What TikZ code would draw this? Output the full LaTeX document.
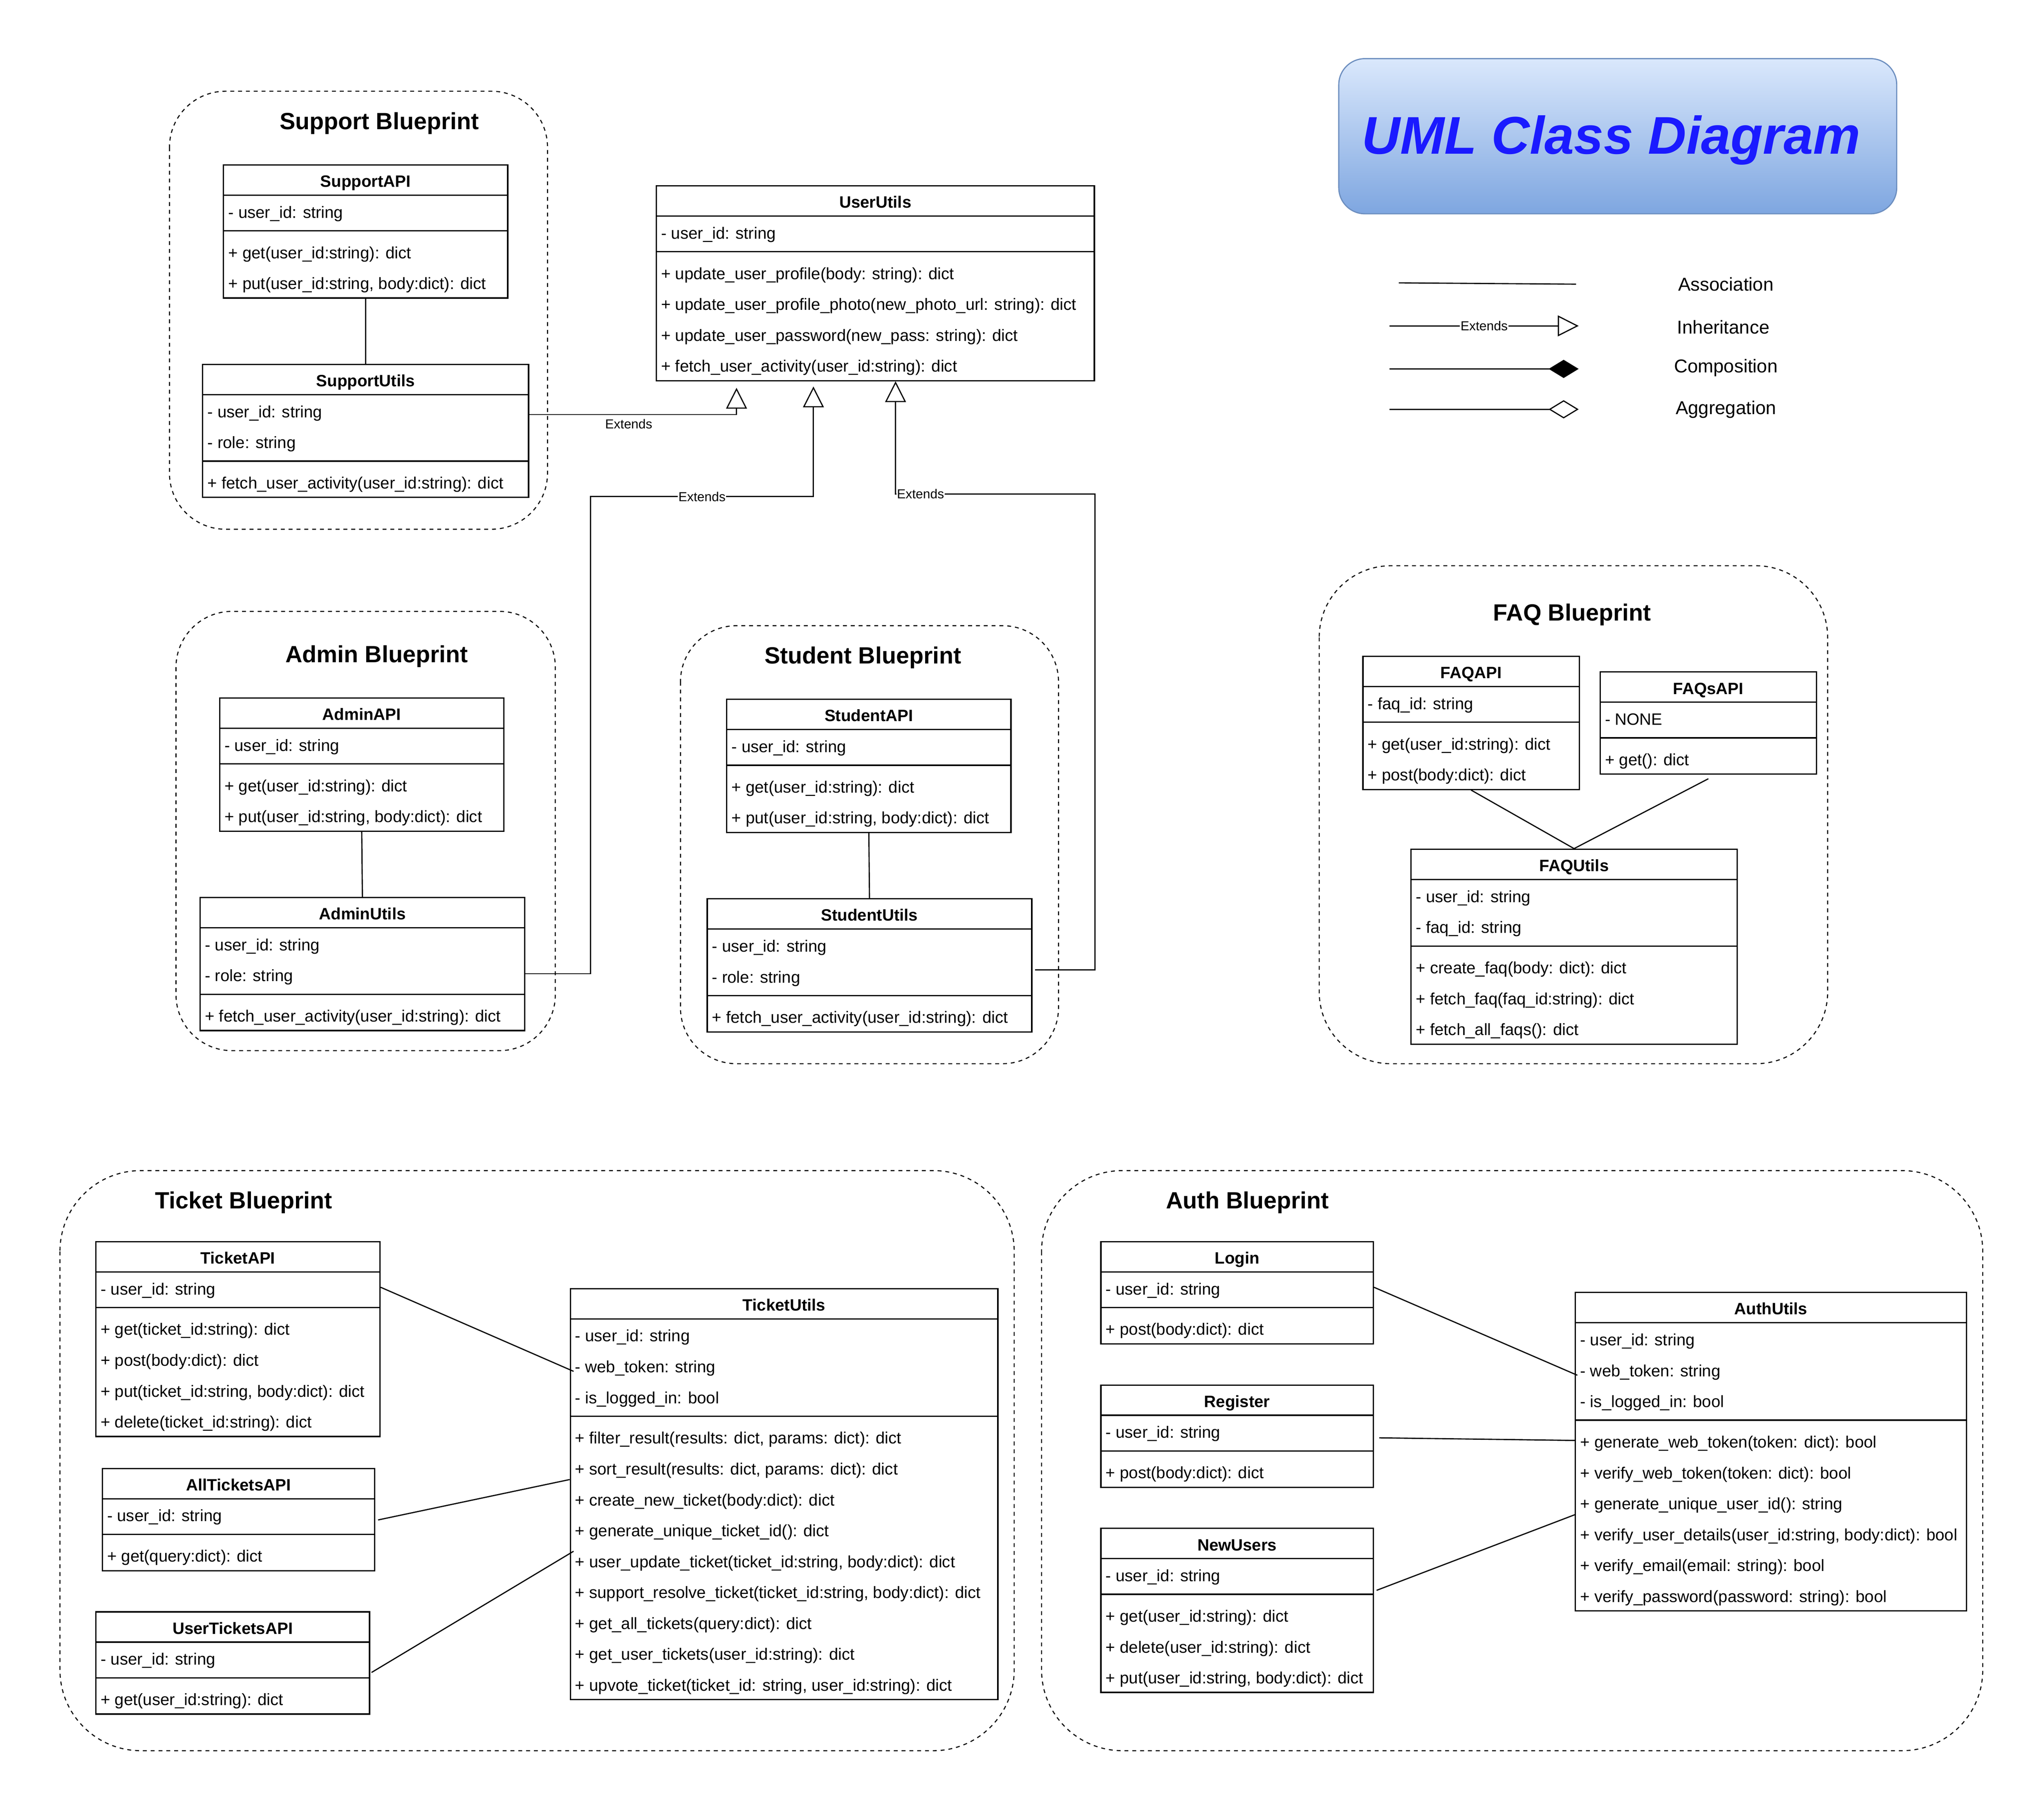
\documentclass[tikz,border=0pt]{standalone}
\usepackage{fontspec}
\setmainfont{Liberation Sans}
\usetikzlibrary{calc,arrows.meta,shapes.geometric}
\definecolor{titleblue}{RGB}{26,26,255}
\definecolor{boxtop}{HTML}{DAE8FC}
\definecolor{boxbot}{HTML}{7EA6E0}
\definecolor{boxline}{HTML}{6C8EBF}
\tikzset{
  classbox/.style={draw, line width=1pt, fill=white, inner sep=0pt},
  classtitle/.style={font=\fontsize{12.6}{14}\selectfont\bfseries, inner sep=0pt, text height=9pt, text depth=2.7pt, yshift=-2.5pt},
  member/.style={font=\fontsize{12.6}{14}\selectfont, anchor=west, inner xsep=4pt, inner ysep=0pt, text height=9pt, text depth=2.7pt, yshift=-2.5pt},
  blueprint/.style={draw, dashed, line width=0.8pt},
  bptitle/.style={font=\fontsize{18}{20}\selectfont\bfseries, inner sep=0pt, yshift=-1.5pt},
  assoc/.style={line width=0.9pt},
  extends/.style={line width=0.9pt, -{Triangle[open, width=16pt, length=16pt, fill=white]}},
  extlabel/.style={font=\fontsize{10}{12}\selectfont, fill=white, inner sep=0.5pt},
  legendtext/.style={font=\fontsize{14.3}{16}\selectfont, inner sep=0pt},
}
\newcommand{\umlclass}[9]{%
  \pgfmathsetmacro{\uH}{23.7*(1+#5+#6)+7.3}%
  \pgfmathsetmacro{\uS}{23.7*(1+#5)+3.65}%
  \pgfmathsetmacro{\uM}{23.7*(1+#5)+7.3}%
  \node[classbox, minimum width=#4pt, minimum height=\uH pt, anchor=north west] (#1) at (#2,#3) {};
  \node[classtitle] (#1-t) at ($(#1.north)+(0,11.85)$) {#7};
  \draw[line width=1pt] ($(#1.north west)+(0,23.7)$) -- ($(#1.north east)+(0,23.7)$);
  \draw[line width=1pt] ($(#1.north west)+(0,\uS)$) -- ($(#1.north east)+(0,\uS)$);
  \foreach \mtext [count=\i] in {#8} {\node[member] (#1-a\i) at ($(#1.north west)+(0,{23.7*\i+11.85})$) {\mtext};}
  \foreach \mtext [count=\i] in {#9} {\node[member] (#1-m\i) at ($(#1.north west)+(0,{\uM+23.7*\i-11.85})$) {\mtext};}
}
\begin{document}
\begin{tikzpicture}[x=1pt,y=-1pt]
\useasboundingbox (0,0) rectangle (1568,1390.6);

% ---------- title ----------
\node[draw=boxline, line width=0.9pt, rounded corners=20pt, top color=boxtop, bottom color=boxbot,
      minimum width=428pt, minimum height=119pt, inner sep=0pt] (titlebox) at (1241,104.5) {};
\node[font=\fontsize{40.7}{48}\selectfont\bfseries\itshape, text=titleblue, inner sep=0pt] (titletext) at ($(titlebox.center)+(-5,3)$) {UML Class Diagram};

% ---------- legend ----------
\coordinate (la1) at (1073,217); \coordinate (la2) at (1209,218);
\draw[assoc] (la1) -- (la2);
\node[legendtext] (lat) at (1324,218) {Association};
\coordinate (li1) at (1066,250); \coordinate (li2) at (1211,250);
\draw[extends] (li1) -- node[extlabel]{Extends} (li2);
\node[legendtext] (lit) at (1322,251) {Inheritance};
\coordinate (lc1) at (1066,283); \coordinate (lc2) at (1211,283);
\draw[line width=0.9pt, -{Diamond[length=23pt, width=14pt]}] (lc1) -- (lc2);
\node[legendtext] (lct) at (1324,282) {Composition};
\coordinate (lg1) at (1066,314); \coordinate (lg2) at (1211,314);
\draw[line width=0.9pt, -{Diamond[open, length=23pt, width=14pt, fill=white]}] (lg1) -- (lg2);
\node[legendtext] (lgt) at (1324,314) {Aggregation};

% ---------- blueprint containers ----------
\draw[blueprint, rounded corners=43pt] (130,70) rectangle (420,406);
\node[bptitle] (bpsupport) at (291,93) {Support Blueprint};
\draw[blueprint, rounded corners=43pt] (135,469) rectangle (426,806);
\node[bptitle] (bpadmin) at (289,502) {Admin Blueprint};
\draw[blueprint, rounded corners=43pt] (522,480) rectangle (812,816);
\node[bptitle] (bpstudent) at (662,503) {Student Blueprint};
\draw[blueprint, rounded corners=55pt] (1012,434) rectangle (1402,816);
\node[bptitle] (bpfaq) at (1206,470) {FAQ Blueprint};
\draw[blueprint, rounded corners=62pt] (46,898) rectangle (778,1343);
\node[bptitle] (bpticket) at (187,921) {Ticket Blueprint};
\draw[blueprint, rounded corners=62pt] (799,898) rectangle (1521,1343);
\node[bptitle] (bpauth) at (957,921) {Auth Blueprint};

% ---------- classes ----------
\umlclass{sapi}{171}{126}{218}{1}{2}{SupportAPI}{- user\_id: string}{+ get(user\_id:string): dict, {+ put(user\_id:string, body:dict): dict}}
\umlclass{sutil}{155}{279}{250}{2}{1}{SupportUtils}{- user\_id: string, - role: string}{+ fetch\_user\_activity(user\_id:string): dict}
\umlclass{uu}{503}{142}{336}{1}{4}{UserUtils}{- user\_id: string}{+ update\_user\_profile(body: string): dict, + update\_user\_profile\_photo(new\_photo\_url: string): dict, + update\_user\_password(new\_pass: string): dict, + fetch\_user\_activity(user\_id:string): dict}
\umlclass{aapi}{168}{535}{218}{1}{2}{AdminAPI}{- user\_id: string}{+ get(user\_id:string): dict, {+ put(user\_id:string, body:dict): dict}}
\umlclass{autil}{153}{688}{249}{2}{1}{AdminUtils}{- user\_id: string, - role: string}{+ fetch\_user\_activity(user\_id:string): dict}
\umlclass{stapi}{557}{536}{218}{1}{2}{StudentAPI}{- user\_id: string}{+ get(user\_id:string): dict, {+ put(user\_id:string, body:dict): dict}}
\umlclass{stutil}{542}{689}{249}{2}{1}{StudentUtils}{- user\_id: string, - role: string}{+ fetch\_user\_activity(user\_id:string): dict}
\umlclass{faqapi}{1045}{503}{166}{1}{2}{FAQAPI}{- faq\_id: string}{+ get(user\_id:string): dict, + post(body:dict): dict}
\umlclass{faqsapi}{1227}{515}{166}{1}{1}{FAQsAPI}{- NONE}{+ get(): dict}
\umlclass{faqutil}{1082}{651}{250}{2}{3}{FAQUtils}{- user\_id: string, - faq\_id: string}{+ create\_faq(body: dict): dict, + fetch\_faq(faq\_id:string): dict, + fetch\_all\_faqs(): dict}
\umlclass{tapi}{73}{952}{218}{1}{4}{TicketAPI}{- user\_id: string}{+ get(ticket\_id:string): dict, + post(body:dict): dict, {+ put(ticket\_id:string, body:dict): dict}, + delete(ticket\_id:string): dict}
\umlclass{atapi}{78}{1126}{209}{1}{1}{AllTicketsAPI}{- user\_id: string}{+ get(query:dict): dict}
\umlclass{utapi}{73}{1236}{210}{1}{1}{UserTicketsAPI}{- user\_id: string}{+ get(user\_id:string): dict}
\umlclass{tutil}{437}{988}{328}{3}{9}{TicketUtils}{- user\_id: string, - web\_token: string, - is\_logged\_in: bool}{{+ filter\_result(results: dict, params: dict): dict}, {+ sort\_result(results: dict, params: dict): dict}, + create\_new\_ticket(body:dict): dict, + generate\_unique\_ticket\_id(): dict, {+ user\_update\_ticket(ticket\_id:string, body:dict): dict}, {+ support\_resolve\_ticket(ticket\_id:string, body:dict): dict}, + get\_all\_tickets(query:dict): dict, + get\_user\_tickets(user\_id:string): dict, {+ upvote\_ticket(ticket\_id: string, user\_id:string): dict}}
\umlclass{login}{844}{952}{209}{1}{1}{Login}{- user\_id: string}{+ post(body:dict): dict}
\umlclass{register}{844}{1062}{209}{1}{1}{Register}{- user\_id: string}{+ post(body:dict): dict}
\umlclass{newusers}{844}{1172}{209}{1}{3}{NewUsers}{- user\_id: string}{+ get(user\_id:string): dict, + delete(user\_id:string): dict, {+ put(user\_id:string, body:dict): dict}}
\umlclass{authu}{1208}{991}{300}{3}{6}{AuthUtils}{- user\_id: string, - web\_token: string, - is\_logged\_in: bool}{+ generate\_web\_token(token: dict): bool, + verify\_web\_token(token: dict): bool, + generate\_unique\_user\_id(): string, {+ verify\_user\_details(user\_id:string, body:dict): bool}, + verify\_email(email: string): bool, + verify\_password(password: string): bool}

% ---------- associations ----------
\draw[assoc] (sapi.south) -- (sutil.north);
\draw[assoc] (aapi.south) -- (autil.north);
\draw[assoc] (stapi.south) -- (stutil.north);
\draw[assoc] (faqapi.south) -- (faqutil.north);
\draw[assoc] ($(faqsapi.south)+(0,3)$) -- (faqutil.north);
\draw[assoc] ($(tapi.north east)+(0,35.5)$) -- ($(tutil.north west)+(3,64)$);
\draw[assoc] ($(atapi.north east)+(2,40)$) -- ($(tutil.north west)+(0,147)$);
\draw[assoc] ($(utapi.north east)+(1,47)$) -- ($(tutil.north west)+(3,202)$);
\draw[assoc] ($(login.north east)+(0,35.5)$) -- ($(authu.north west)+(2,64)$);
\draw[assoc] ($(register.north east)+(4,41)$) -- ($(authu.north west)+(0,114)$);
\draw[assoc] ($(newusers.north east)+(2,48)$) -- ($(authu.north west)+(0,171)$);

% ---------- inheritance ----------
\coordinate (e1) at ($(uu.south west)+(62,5)$);
\draw[extends] ($(sutil.north east)+(0,39)$) -| node[pos=0.24, below=3pt, font=\fontsize{10}{12}\selectfont, inner sep=0pt]{Extends} (e1);
\coordinate (c2a) at (453,381);
\coordinate (e2) at ($(uu.south west)+(121,4)$);
\draw[extends] ($(autil.north east)+(0,59)$) -| (c2a) -- node[extlabel]{Extends} (c2a -| e2) -- (e2);
\coordinate (c3y) at (0,379);
\coordinate (c3a) at (uu.east |- c3y);
\coordinate (e3) at ($(uu.south west)+(184,0)$);
\draw[extends] ($(stutil.north east)+(2,55)$) -| (c3a) -- node[extlabel, pos=0.875]{Extends} (c3a -| e3) -- (e3);
\end{tikzpicture}
\end{document}
